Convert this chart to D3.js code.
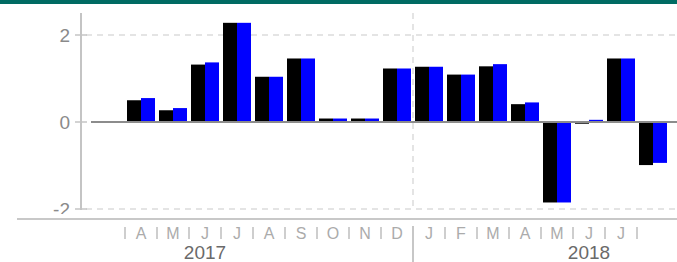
<!DOCTYPE html>
<html><head><meta charset="utf-8">
<script src="https://cdn.jsdelivr.net/npm/d3@7"></script>
<style>body{margin:0;background:#fff}svg{display:block}</style>
</head><body>
<svg id="c" width="677" height="262"></svg>
<script>
const monthLabels = ["", "A","M","J","J","A","S","O","N","D","J","F","M","A","M","J","J",""];
const years = ["2017","2018"];
const yearOf = [0,0,0,0,0,0,0,0,0,0,1,1,1,1,1,1,1,1];
const seriesBlack = [null, 0.50, 0.27, 1.32, 2.28, 1.04, 1.46, 0.08, 0.08, 1.23, 1.27, 1.09, 1.28, 0.41, -1.85, -0.04, 1.46, -0.99];
const seriesBlue  = [null, 0.55, 0.32, 1.37, 2.28, 1.04, 1.46, 0.08, 0.08, 1.23, 1.27, 1.09, 1.33, 0.45, -1.85, 0.05, 1.46, -0.94];
const yTicks = [-2, 0, 2];

const svg = d3.select("#c");
const font = "'Liberation Sans', Arial, sans-serif";
const idx = d3.range(monthLabels.length);

const x = d3.scaleBand().domain(idx).range([93, 669]).paddingInner(0.125).paddingOuter(0.0625);
const sub = d3.scaleBand().domain(["black","blue"]).range([0, x.bandwidth()]);
const y = d3.scaleLinear().domain([-2, 2]).range([209, 35]);
const plotRight = 677;

// top band
svg.append("rect").attr("x",0).attr("y",0).attr("width",677).attr("height",4).attr("fill","#006b63");

// grid lines
svg.selectAll(".grid").data(yTicks.filter(d=>d!==0)).enter().append("line")
  .attr("x1", 86).attr("x2", plotRight).attr("y1", d=>y(d)).attr("y2", d=>y(d))
  .attr("stroke","#dcdcdc").attr("stroke-width",1.5).attr("stroke-dasharray","6,5");

// year separator (dashed in plot)
const firstOf2018 = yearOf.indexOf(1);
const sepX = x(firstOf2018) - x.step()*x.paddingInner()/2;
svg.append("line").attr("x1",sepX).attr("x2",sepX).attr("y1",13).attr("y2",y(-2))
  .attr("stroke","#dcdcdc").attr("stroke-width",1.5).attr("stroke-dasharray","6,5");

// bars
const series = [["black", seriesBlack, "#000000"], ["blue", seriesBlue, "#0000ff"]];
series.forEach(([key, vals, col]) => {
  svg.append("g").selectAll("rect").data(idx.filter(i=>vals[i]!==null)).enter().append("rect")
    .attr("x", i => x(i) + sub(key))
    .attr("width", sub.bandwidth())
    .attr("y", i => y(Math.max(0, vals[i])))
    .attr("height", i => Math.abs(y(vals[i]) - y(0)))
    .attr("fill", col);
});

// zero line
svg.append("line").attr("x1", 91).attr("x2", plotRight).attr("y1", y(0)).attr("y2", y(0))
  .attr("stroke","#8c8c8c").attr("stroke-width",2);

// y axis
svg.append("line").attr("x1",81).attr("x2",81).attr("y1",13).attr("y2",y(-2)+1)
  .attr("stroke","#c4c4c4").attr("stroke-width",2);
svg.selectAll(".yt").data(yTicks).enter().append("line")
  .attr("x1",75).attr("x2",87).attr("y1",d=>y(d)).attr("y2",d=>y(d))
  .attr("stroke","#c4c4c4").attr("stroke-width",1.5);
svg.append("clipPath").attr("id","yclip").append("rect").attr("x",0).attr("y",0).attr("width",80).attr("height",214);
svg.append("g").attr("clip-path","url(#yclip)").selectAll(".yl").data(yTicks).enter().append("text")
  .attr("x",70).attr("y",d=>y(d)).attr("dy","0.36em").attr("text-anchor","end")
  .attr("font-family",font).attr("font-size",19).attr("fill","#8a8a8a").text(d=>d);

// x axis base line
svg.append("line").attr("x1",17).attr("x2",677).attr("y1",219).attr("y2",219)
  .attr("stroke","#c8c8c8").attr("stroke-width",2);

// month labels
svg.selectAll(".ml").data(idx).enter().append("text")
  .attr("x", i => x(i) + x.bandwidth()/2).attr("y", 239).attr("text-anchor","middle")
  .attr("font-family",font).attr("font-size",16).attr("fill","#ababab").text(i=>monthLabels[i]);

// small separators between months
svg.selectAll(".ms").data(idx.filter(i => i>0 && i!==firstOf2018)).enter().append("line")
  .attr("x1", i => x(i) - x.step()*x.paddingInner()/2).attr("x2", i => x(i) - x.step()*x.paddingInner()/2)
  .attr("y1", 227).attr("y2", 239).attr("stroke","#b4b4b4").attr("stroke-width",1.3);

// year separator in label area
svg.append("line").attr("x1",sepX).attr("x2",sepX).attr("y1",226).attr("y2",262)
  .attr("stroke","#b4b4b4").attr("stroke-width",1.5);

// year labels under June of each year
years.forEach((yr, k) => {
  const juneIdx = idx.filter(i => yearOf[i]===k && monthLabels[i]==="J")[0 + (k===0?0:1)];
  svg.append("text").attr("x", x(juneIdx) + x.bandwidth()/2).attr("y", 259).attr("text-anchor","middle")
    .attr("font-family",font).attr("font-size",19).attr("fill","#6a6a6a").text(yr);
});
</script>
</body></html>
